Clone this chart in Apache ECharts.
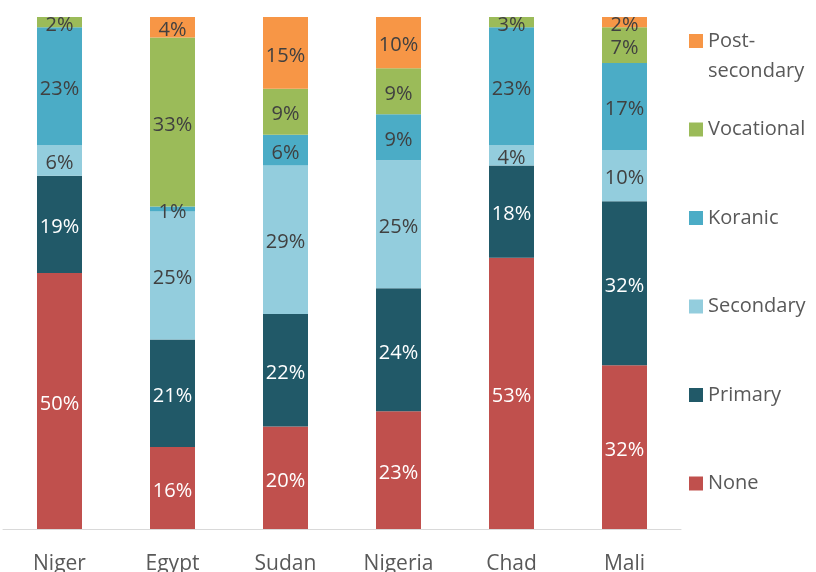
<!DOCTYPE html>
<html>
<head>
<meta charset="utf-8">
<script src="https://cdn.jsdelivr.net/npm/echarts@6/dist/echarts.min.js"></script>
<style>
  html, body { margin: 0; padding: 0; background: #ffffff; }
  #chart { width: 816px; height: 572px; }
</style>
</head>
<body>
<div id="chart"></div>
<script>
// Highest education level by country (% of respondents)
const countries = ['Niger', 'Egypt', 'Sudan', 'Nigeria', 'Chad', 'Mali'];

const none          = [50, 16, 20, 23, 53, 32];
const primary       = [19, 21, 22, 24, 18, 32];
const secondary     = [6, 25, 29, 25, 4, 10];
const koranic       = [23, 1, 6, 9, 23, 17];
const vocational    = [2, 33, 9, 9, 3, 7];
const postSecondary = [1, 4, 15, 10, 0, 2];
// segments too thin to carry a label
const postSecondaryUnlabeled = ['Niger'];

const seriesDefs = [
  { name: 'None',           values: none,          color: '#C0504D', text: '#FFFFFF' },
  { name: 'Primary',        values: primary,       color: '#215968', text: '#FFFFFF' },
  { name: 'Secondary',      values: secondary,     color: '#93CDDD', text: '#404040' },
  { name: 'Koranic',        values: koranic,       color: '#4BACC6', text: '#404040' },
  { name: 'Vocational',     values: vocational,    color: '#9BBB59', text: '#404040' },
  { name: 'Post-secondary', values: postSecondary, color: '#F79646', text: '#404040' }
];

const FONT = '"Open Sans", "Noto Sans", sans-serif';

const series = seriesDefs.map(def => ({
  name: def.name,
  type: 'bar',
  stack: 'total',
  barWidth: 45,
  clip: true,
  itemStyle: { color: def.color },
  label: {
    show: true,
    position: 'inside',
    offset: [0, 3],
    color: def.text,
    fontFamily: FONT,
    fontSize: 20,
    formatter: p => (p.value ? p.value + '%' : '')
  },
  data: def.values.map((v, i) => {
    if (def.name === 'Post-secondary' && postSecondaryUnlabeled.includes(countries[i])) {
      return { value: v, label: { show: false } };
    }
    return v;
  })
}));

const chart = echarts.init(document.getElementById('chart'), null, { renderer: 'canvas' });
chart.setOption({
  animation: false,
  backgroundColor: '#ffffff',
  grid: { left: 3, right: 135, top: 17, bottom: 43, containLabel: false, outerBoundsMode: 'none' },
  xAxis: {
    type: 'category',
    data: countries,
    axisLine: { lineStyle: { color: '#D9D9D9', width: 1 } },
    axisTick: { show: false },
    axisLabel: { color: '#595959', fontFamily: FONT, fontSize: 21, margin: 25 }
  },
  yAxis: {
    type: 'value',
    min: 0,
    max: 100,
    show: false,
    splitLine: { show: false }
  },
  legend: {
    orient: 'vertical',
    left: 684,
    top: 26,
    itemWidth: 14,
    itemHeight: 14,
    itemGap: 68.5,
    icon: 'rect',
    data: ['Post-secondary', 'Vocational', 'Koranic', 'Secondary', 'Primary', 'None'],
    formatter: name => (name === 'Post-secondary' ? 'Post-' : name),
    textStyle: { color: '#595959', fontFamily: FONT, fontSize: 20, lineHeight: 14 }
  },
  graphic: [{
    type: 'text',
    left: 708,
    top: 61,
    style: { text: 'secondary', fill: '#595959', font: '20px ' + FONT }
  }],
  series: series
});
</script>
</body>
</html>
